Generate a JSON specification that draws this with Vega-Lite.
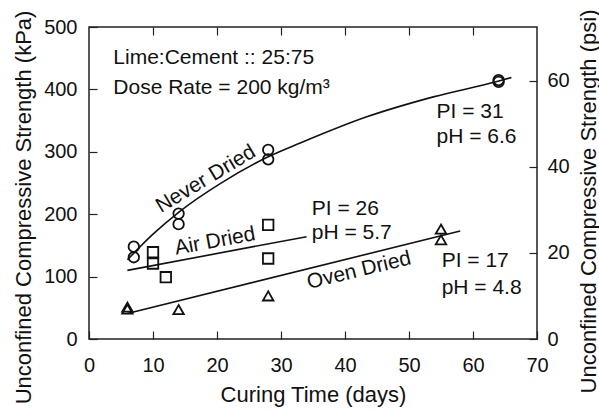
{
  "$schema": "https://vega.github.io/schema/vega-lite/v6.json",
  "width": 448,
  "height": 312,
  "autosize": "none",
  "padding": {"left": 89, "top": 27, "right": 62, "bottom": 73},
  "background": "white",
  "config": {
    "font": "Liberation Sans",
    "view": {"stroke": "#222", "strokeWidth": 1.5},
    "axis": {
      "domain": false,
      "grid": false,
      "tickColor": "#222",
      "tickWidth": 1.2,
      "tickSize": -8,
      "labelColor": "#111",
      "labelFontSize": 20,
      "labelFont": "Liberation Sans",
      "labelFlush": false,
      "labelOverlap": false,
      "labelBound": false,
      "titleColor": "#111",
      "titleFont": "Liberation Sans",
      "titleFontSize": 22,
      "titleFontWeight": "normal"
    }
  },
  "datasets": {
    "curves": [
      {"series": "Never Dried", "day": 6, "kPa": 127},
      {"series": "Never Dried", "day": 10, "kPa": 168},
      {"series": "Never Dried", "day": 14, "kPa": 203},
      {"series": "Never Dried", "day": 20.5, "kPa": 249},
      {"series": "Never Dried", "day": 28, "kPa": 292},
      {"series": "Never Dried", "day": 33, "kPa": 314},
      {"series": "Never Dried", "day": 43.4, "kPa": 356},
      {"series": "Never Dried", "day": 53.8, "kPa": 388},
      {"series": "Never Dried", "day": 63.9, "kPa": 413},
      {"series": "Never Dried", "day": 66, "kPa": 419},
      {"series": "Air Dried", "day": 6, "kPa": 110},
      {"series": "Air Dried", "day": 34, "kPa": 164},
      {"series": "Oven Dried", "day": 6, "kPa": 41},
      {"series": "Oven Dried", "day": 58, "kPa": 173}
    ],
    "tests": [
      {"series": "Never Dried", "day": 7, "kPa": 148},
      {"series": "Never Dried", "day": 7, "kPa": 131},
      {"series": "Never Dried", "day": 14, "kPa": 201},
      {"series": "Never Dried", "day": 14, "kPa": 184},
      {"series": "Never Dried", "day": 28, "kPa": 303},
      {"series": "Never Dried", "day": 28, "kPa": 288},
      {"series": "Never Dried", "day": 64, "kPa": 415},
      {"series": "Never Dried", "day": 64, "kPa": 412},
      {"series": "Air Dried", "day": 10, "kPa": 139},
      {"series": "Air Dried", "day": 10, "kPa": 121},
      {"series": "Air Dried", "day": 12, "kPa": 99},
      {"series": "Air Dried", "day": 28, "kPa": 183},
      {"series": "Air Dried", "day": 28, "kPa": 129},
      {"series": "Oven Dried", "day": 6, "kPa": 51},
      {"series": "Oven Dried", "day": 6, "kPa": 48},
      {"series": "Oven Dried", "day": 14, "kPa": 47},
      {"series": "Oven Dried", "day": 28, "kPa": 69},
      {"series": "Oven Dried", "day": 55, "kPa": 176},
      {"series": "Oven Dried", "day": 55, "kPa": 159}
    ],
    "notes": [
      {"label": "Lime:Cement :: 25:75", "day": 3.8, "kPa": 440.7},
      {"label": "Dose Rate = 200 kg/m³", "day": 3.8, "kPa": 392.6},
      {"label": "PI = 31", "day": 54.3, "kPa": 353.7},
      {"label": "pH = 6.6", "day": 54.3, "kPa": 313.6},
      {"label": "PI = 26", "day": 34.8, "kPa": 198.7},
      {"label": "pH = 5.7", "day": 34.8, "kPa": 159.8},
      {"label": "PI = 17", "day": 55.1, "kPa": 115.9},
      {"label": "pH = 4.8", "day": 55.1, "kPa": 71.6}
    ],
    "psiRange": [
      {"day": 0, "psi": 0},
      {"day": 70, "psi": 72.52}
    ]
  },
  "layer": [
    {
      "encoding": {
        "x": {
          "field": "day", "type": "quantitative",
          "scale": {"domain": [0, 70], "nice": false},
          "axis": {"orient": "bottom", "values": [0, 10, 20, 30, 40, 50, 60, 70], "labelPadding": 24, "title": "Curing Time (days)", "titleY": 62, "titleBaseline": "alphabetic"}
        },
        "y": {
          "field": "kPa", "type": "quantitative",
          "scale": {"domain": [0, 500], "nice": false},
          "axis": {"orient": "left", "values": [0, 100, 200, 300, 400, 500], "labelPadding": 20, "title": "Unconfined Compressive Strength (kPa)", "titleAngle": 270, "titleX": -66, "titleY": 180, "titleAlign": "center", "titleBaseline": "middle"}
        }
      },
      "layer": [
        {
          "data": {"name": "curves"},
          "mark": {"type": "line", "color": "#111", "strokeWidth": 1.6, "interpolate": "monotone"},
          "encoding": {"detail": {"field": "series"}}
        },
        {
          "data": {"name": "tests"},
          "mark": {"type": "point", "filled": false, "color": "#111", "strokeWidth": 1.8, "size": 110, "opacity": 1},
          "encoding": {
            "shape": {"field": "series", "type": "nominal", "scale": {"domain": ["Never Dried", "Air Dried", "Oven Dried"], "range": ["circle", "square", "triangle-up"]}, "legend": null}
          }
        },
        {
          "data": {"name": "notes"},
          "mark": {"type": "text", "align": "left", "baseline": "alphabetic", "fontSize": 21, "color": "#111"},
          "encoding": {"text": {"field": "label"}}
        },
        {
          "data": {"values": [{"label": "Never Dried", "day": 18.25, "kPa": 256}]},
          "mark": {"type": "text", "align": "center", "baseline": "middle", "fontSize": 21, "angle": 329, "color": "#111"},
          "encoding": {"text": {"field": "label"}}
        },
        {
          "data": {"values": [{"label": "Air Dried", "day": 19.7, "kPa": 156.3}]},
          "mark": {"type": "text", "align": "center", "baseline": "middle", "fontSize": 21, "angle": 349.5, "color": "#111"},
          "encoding": {"text": {"field": "label"}}
        },
        {
          "data": {"values": [{"label": "Oven Dried", "day": 42.2, "kPa": 109.5}]},
          "mark": {"type": "text", "align": "center", "baseline": "middle", "fontSize": 21, "angle": 346.5, "color": "#111"},
          "encoding": {"text": {"field": "label"}}
        }
      ]
    },
    {
      "data": {"name": "psiRange"},
      "mark": {"type": "point", "opacity": 0},
      "encoding": {
        "x": {
          "field": "day", "type": "quantitative",
          "scale": {"domain": [0, 70], "nice": false},
          "axis": {"orient": "top", "values": [10, 20, 30, 40, 50, 60], "labels": false, "title": null}
        },
        "y": {
          "field": "psi", "type": "quantitative",
          "scale": {"domain": [0, 72.52], "nice": false},
          "axis": {"orient": "right", "values": [0, 20, 40, 60], "labelPadding": 18, "title": "Unconfined Compressive Strength (psi)", "titleAngle": 270, "titleX": 51, "titleY": 174, "titleAlign": "center", "titleBaseline": "middle"}
        }
      }
    }
  ],
  "resolve": {"scale": {"x": "independent", "y": "independent"}}
}
